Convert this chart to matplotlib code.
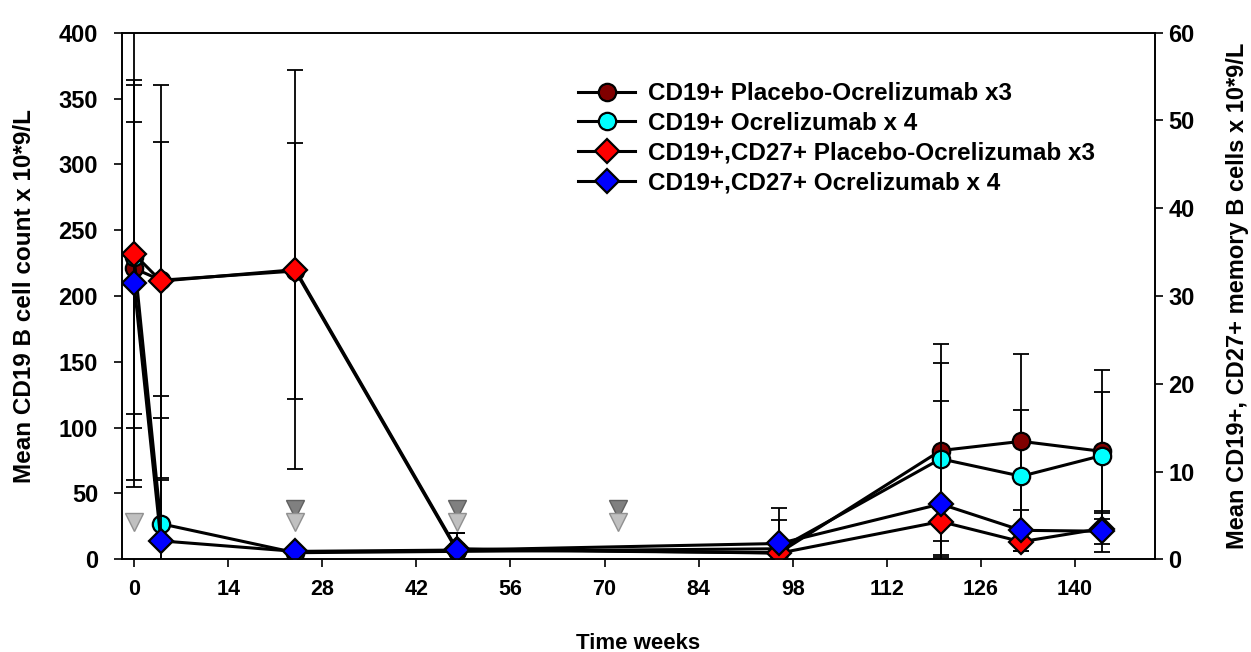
import matplotlib

matplotlib.use("Agg")
import matplotlib.pyplot as plt  # noqa: E402
from matplotlib.lines import Line2D  # noqa: E402

plt.rcParams["font.family"] = ["Liberation Sans", "DejaVu Sans"]
plt.rcParams["font.weight"] = "bold"
plt.rcParams["axes.labelweight"] = "bold"

# semanas de visita
weeks = [0, 4, 24, 48, 96, 120, 132, 144]

# CD19+ (eje izquierdo, x 10*9/L)
cd19_placebo = [221, 212, 219, 7, 5, 82.6, 89.6, 82]
cd19_placebo_sd = [111, 105, 97, 13, 3, 81, 66, 62]
cd19_ocre = [230, 27, 5, 6, 8, 76.3, 63.1, 78.8]
cd19_ocre_sd = [175, 97, 3, 14, 22, 73, 50, 48.5]

# CD19+,CD27+ memoria (eje derecho)
cd27_placebo = [34.8, 31.7, 33.0, 1.2, 0.7, 4.3, 2.0, 3.5]
cd27_placebo_sd = [19.8, 22.4, 22.7, 0.5, 0.3, 2.2, 1.1, 1.8]
cd27_ocre = [31.5, 2.1, 0.9, 1.05, 1.8, 6.3, 3.3, 3.2]
cd27_ocre_sd = [22.5, 6.9, 0.3, 0.3, 4.05, 11.7, 2.35, 2.35]

# infusiones (triangulos)
dose_ocre_weeks = [0, 24, 48, 72]
dose_ocre_level = [28.5, 28.5, 28.5, 28.5]
dose_placebo_weeks = [24, 48, 72]
dose_placebo_level = [38.5, 38.5, 38.5]

labels = [
    "CD19+ Placebo-Ocrelizumab x3",
    "CD19+ Ocrelizumab x 4",
    "CD19+,CD27+ Placebo-Ocrelizumab x3",
    "CD19+,CD27+ Ocrelizumab x 4",
]
colors = ["#800000", "#00ffff", "#ff0000", "#0000ff"]

fig = plt.figure(figsize=(12.51, 6.52), dpi=100)
ax = fig.add_axes([0.0973, 0.1422, 0.826, 0.8076])
ax2 = ax.twinx()

err_kw = dict(fmt="none", ecolor="black", elinewidth=1.3, capsize=5.5, capthick=1.3)
line_kw = dict(color="black", lw=2.2, mec="black", mew=1.6)

ax.plot(dose_placebo_weeks, dose_placebo_level, ls="none", marker="v", ms=13,
        mfc="#808080", mec="#606060", mew=1)
ax.plot(dose_ocre_weeks, dose_ocre_level, ls="none", marker="v", ms=13,
        mfc="#c0c0c0", mec="#909090", mew=1)

ax.errorbar(weeks, cd19_placebo, yerr=cd19_placebo_sd, **err_kw)
ax.errorbar(weeks, cd19_ocre, yerr=cd19_ocre_sd, **err_kw)
ax.plot(weeks, cd19_placebo, marker="o", ms=12.5, mfc=colors[0], **line_kw)
ax.plot(weeks, cd19_ocre, marker="o", ms=12.5, mfc=colors[1], **line_kw)

ax2.errorbar(weeks, cd27_placebo, yerr=cd27_placebo_sd, **err_kw)
ax2.errorbar(weeks, cd27_ocre, yerr=cd27_ocre_sd, **err_kw)
ax2.plot(weeks, cd27_placebo, marker="D", ms=12, mfc=colors[2], **line_kw)
ax2.plot(weeks, cd27_ocre, marker="D", ms=12, mfc=colors[3], **line_kw)

ax.set_xlim(-1.83, 151.9)
ax.set_ylim(0, 400)
ax2.set_ylim(0, 60)
ax.set_xticks(range(0, 141, 14))
ax.set_yticks(range(0, 401, 50))
ax2.set_yticks(range(0, 61, 10))

for a in (ax, ax2):
    for s in a.spines.values():
        s.set_linewidth(1.2)
ax.tick_params(axis="x", direction="out", length=6, width=1.2, labelsize=15.5, pad=8)
ax.tick_params(axis="y", direction="out", length=6, width=1.2, labelsize=17, pad=11)
ax2.tick_params(axis="y", direction="out", length=6, width=1.2, labelsize=17, pad=3.5)

ax.set_xlabel("Time weeks", fontsize=16)
ax.xaxis.set_label_coords(0.5, -0.14)
ax.set_ylabel("Mean CD19 B cell count x 10*9/L", fontsize=17.5, va="center")
ax.yaxis.set_label_coords(-0.0945, 0.5)
ax2.set_ylabel("Mean CD19+, CD27+ memory B cells x 10*9/L", fontsize=17, va="center",
               rotation=90)
ax2.yaxis.set_label_coords(1.0794, 0.5)

handles = [
    Line2D([], [], marker="o", ms=12.5, mfc=colors[0], **line_kw),
    Line2D([], [], marker="o", ms=12.5, mfc=colors[1], **line_kw),
    Line2D([], [], marker="D", ms=12, mfc=colors[2], **line_kw),
    Line2D([], [], marker="D", ms=12, mfc=colors[3], **line_kw),
]
ax2.legend(handles, labels, loc="upper left", bbox_to_anchor=(0.462, 0.874),
           bbox_transform=fig.transFigure, frameon=False, borderpad=0,
           borderaxespad=0, handlelength=2.35, handletextpad=0.55,
           labelspacing=0.28, fontsize=17.5)

fig.savefig("out.png", dpi=100)
